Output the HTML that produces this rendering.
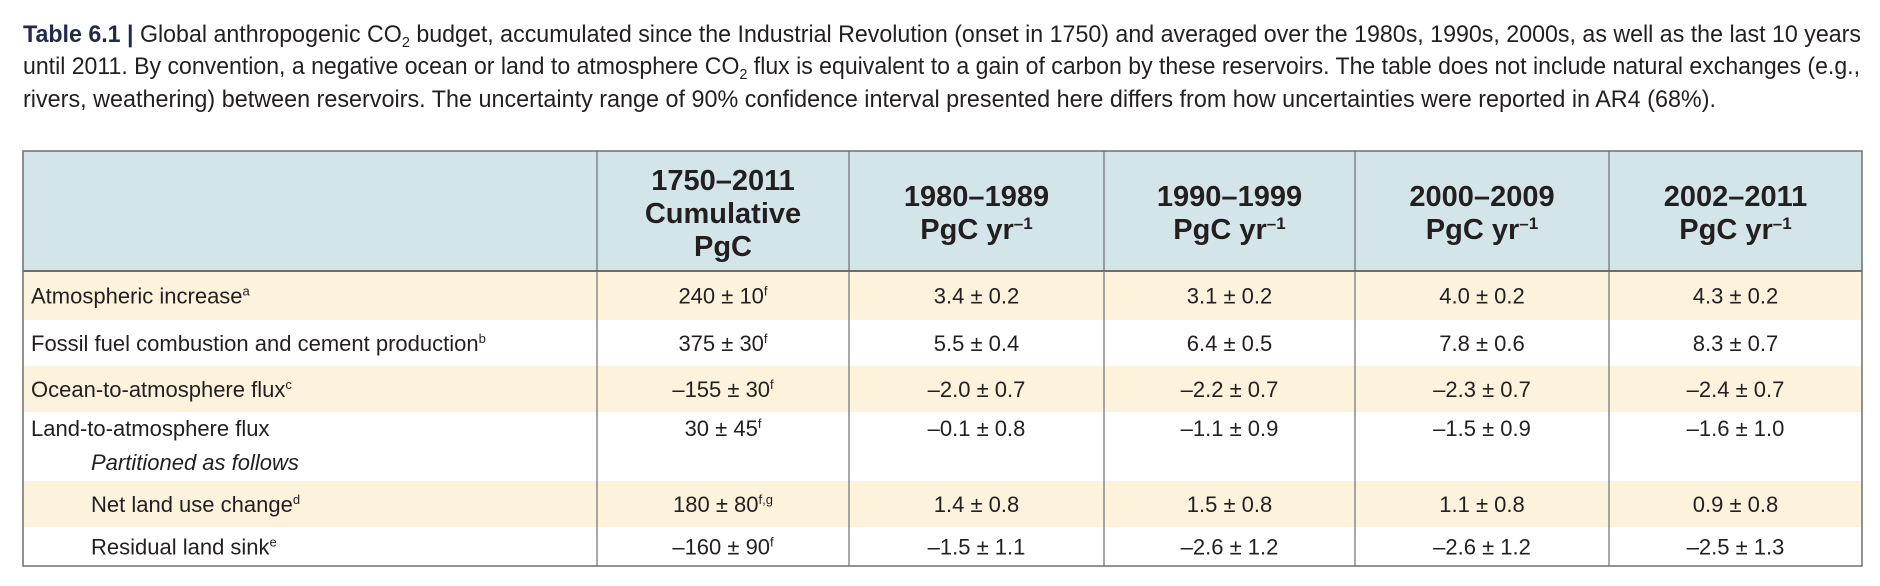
<!DOCTYPE html>
<html><head><meta charset="utf-8"><style>
html,body{margin:0;padding:0;background:#fff;}
svg{display:block;font-family:"Liberation Sans Narrow","Liberation Sans",sans-serif;}
</style></head><body>
<svg id="tbl" width="1880" height="586" viewBox="0 0 1880 586" xmlns="http://www.w3.org/2000/svg">
<g font-size="24" fill="#231f20">
<text x="23" y="42" textLength="1838" lengthAdjust="spacingAndGlyphs"><tspan font-weight="bold" fill="#1f2a4f">Table 6.1 | </tspan>Global anthropogenic CO<tspan font-size="15" dy="5">2</tspan><tspan dy="-5"> budget, accumulated since the Industrial Revolution (onset in 1750) and averaged over the 1980s, 1990s, 2000s, as well as the last 10 years</tspan></text>
<text x="23" y="74" textLength="1837" lengthAdjust="spacingAndGlyphs">until 2011. By convention, a negative ocean or land to atmosphere CO<tspan font-size="15" dy="5">2</tspan><tspan dy="-5"> flux is equivalent to a gain of carbon by these reservoirs. The table does not include natural exchanges (e.g.,</tspan></text>
<text x="23" y="107" textLength="1693" lengthAdjust="spacingAndGlyphs">rivers, weathering) between reservoirs. The uncertainty range of 90% confidence interval presented here differs from how uncertainties were reported in AR4 (68%).</text>
</g>
<g id="body"></g>
</svg>
<script>
const headers1 = ["1750–2011","1980–1989","1990–1999","2000–2009","2002–2011"];
const rowLabels = ["Atmospheric increase","Fossil fuel combustion and cement production","Ocean-to-atmosphere flux","Land-to-atmosphere flux","Net land use change","Residual land sink"];
const rowSups = ["a","b","c","","d","e"];
const cumulative = ["240 ± 10","375 ± 30","–155 ± 30","30 ± 45","180 ± 80","–160 ± 90"];
const cumSups = ["f","f","f","f","f,g","f"];
const d1980 = ["3.4 ± 0.2","5.5 ± 0.4","–2.0 ± 0.7","–0.1 ± 0.8","1.4 ± 0.8","–1.5 ± 1.1"];
const d1990 = ["3.1 ± 0.2","6.4 ± 0.5","–2.2 ± 0.7","–1.1 ± 0.9","1.5 ± 0.8","–2.6 ± 1.2"];
const d2000 = ["4.0 ± 0.2","7.8 ± 0.6","–2.3 ± 0.7","–1.5 ± 0.9","1.1 ± 0.8","–2.6 ± 1.2"];
const d2002 = ["4.3 ± 0.2","8.3 ± 0.7","–2.4 ± 0.7","–1.6 ± 1.0","0.9 ± 0.8","–2.5 ± 1.3"];

const NS="http://www.w3.org/2000/svg";
const g=document.getElementById('body');
const L=23,R=1862,T=151,HB=271;
const colX=[L,597,849,1104,1355,1609,R];
const rowY=[271,320,366,412,481,527,566];
const shaded=[true,false,true,false,true,false];
function mk(tag,attrs,parent){const e=document.createElementNS(NS,tag);for(const k in attrs)e.setAttribute(k,attrs[k]);(parent||g).appendChild(e);return e;}

const hb=mk('rect',{x:L,y:T,width:R-L,height:HB-T,fill:'#d4e5ea'});


rowLabels.forEach((lab,i)=>{
  if(shaded[i]){const r=mk('rect',{x:L,y:rowY[i],width:R-L,height:rowY[i+1]-rowY[i],fill:'#fdf2dc'});
  
  }
});
for(let c=0;c<5;c++){
  const cx=(colX[c+1]+colX[c+2])/2;
  const t=mk('text',{x:cx,'text-anchor':'middle','font-size':'29','font-weight':'bold',fill:'#231f20'});
  
  
  if(c===0){
    [headers1[0],"Cumulative","PgC"].forEach((s,k)=>{mk('tspan',{x:cx,y:190+k*33},t).textContent=s;});
  } else {
    mk('tspan',{x:cx,y:206},t).textContent=headers1[c];
    const ts=mk('tspan',{x:cx,y:239},t);ts.textContent="PgC yr";
    const sp=mk('tspan',{dy:-10,'font-size':'17'},t);sp.textContent="–1";
  }
}
const cols=[cumulative,d1980,d1990,d2000,d2002];
rowLabels.forEach((lab,i)=>{
  const yc= i===3 ? 436 : (rowY[i]+rowY[i+1])/2+8;
  const lx= i>=4 ? 91 : 31;
  const t=mk('text',{x:lx,y:yc,'font-size':'22',fill:'#231f20'});
  
  
  t.textContent=lab;
  if(rowSups[i]){const s=mk('tspan',{dy:-8,'font-size':'13'},t);s.textContent=rowSups[i];}
  cols.forEach((arr,c)=>{
    const cx=(colX[c+1]+colX[c+2])/2;
    const v=mk('text',{x:cx,y:yc,'font-size':'22','text-anchor':'middle',fill:'#231f20'});
    
    
    v.textContent=arr[i];
    if(c===0){const s=mk('tspan',{dy:-8,'font-size':'13'},v);s.textContent=cumSups[i];}
  });
});
const pt=mk('text',{x:91,y:470,'font-size':'22','font-style':'italic',fill:'#231f20'});


pt.textContent="Partitioned as follows";
for(let c=1;c<colX.length-1;c++){mk('line',{x1:colX[c],y1:T,x2:colX[c],y2:rowY[6],stroke:'#6d6e71','stroke-width':1.2});}
mk('line',{x1:L,y1:HB,x2:R,y2:HB,stroke:'#6d6e71','stroke-width':2});
const fr=mk('rect',{x:L,y:T,width:R-L,height:rowY[6]-T,fill:'none',stroke:'#6d6e71','stroke-width':1.5});


</script>
</body></html>
